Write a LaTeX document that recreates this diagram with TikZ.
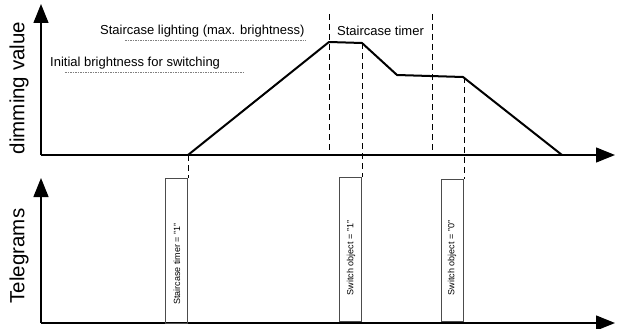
\documentclass[tikz,border=0pt]{standalone}
\usepackage{fontspec}
\setmainfont{Liberation Sans}
\usetikzlibrary{arrows.meta}
\begin{document}
\begin{tikzpicture}[x=1pt,y=-1pt,
  axis/.style={line width=1.3pt,-{Triangle[length=19pt,width=15pt]}},
  curve/.style={line width=2pt,line join=round},
  guide/.style={line width=0.9pt,dash pattern=on 6pt off 4pt},
  uline/.style={line width=0.7pt,gray,dash pattern=on 1.5pt off 1pt},
  tele/.style={draw=black!70,line width=0.9pt,minimum width=22pt,anchor=north east,inner sep=0pt},
  lbl/.style={font=\fontsize{13}{15}\selectfont,inner sep=0pt},
  big/.style={font=\fontsize{20.5}{23}\selectfont,inner sep=0pt,rotate=90},
  small/.style={font=\fontsize{9}{10}\selectfont,inner sep=0pt,rotate=90}]
\useasboundingbox (0,0) rectangle (621,329);
% axes
\coordinate (o1) at (41,155);
\coordinate (y1) at (41,4);
\coordinate (x1) at (615,155);
\coordinate (o2) at (41,323);
\coordinate (y2) at (41,178);
\coordinate (x2) at (615,323);
\draw[axis] (o1) -- (y1);
\draw[axis] (o1) -- (x1);
\draw[axis] (o2) -- (y2);
\draw[axis] (o2) -- (x2);
% curve
\coordinate (c0) at (188,155);
\coordinate (c1) at (329,42);
\coordinate (c2) at (362,43);
\coordinate (c3) at (397,75);
\coordinate (c4) at (463,77);
\coordinate (c5) at (562,155);
\draw[curve] (c0) -- (c1) -- (c2) -- (c3) -- (c4) -- (c5);
% telegram boxes
\node[tele,minimum height=145pt] (t1) at (188,178) {};
\node[tele,minimum height=144pt] (t2) at (362,177) {};
\node[tele,minimum height=142pt] (t3) at (464,179) {};
\node[small] (l1) at (177,264) {Staircase timer = "1"};
\node[small] (l2) at (351,258) {Switch object = "1"};
\node[small] (l3) at (452,258) {Switch object = "0"};
% guides
\coordinate (g1t) at (329,14);
\coordinate (g1b) at (329,155);
\coordinate (g3t) at (432,14);
\coordinate (g3b) at (432,155);
\coordinate (g4t) at (464,77);
\draw[guide] (g1t) -- (g1b);
\draw[guide] (g3t) -- (g3b);
\draw[guide] (c0) -- (t1.north east);
\draw[guide] (c2) -- (t2.north east);
\draw[guide] (g4t) -- (t3.north east);
% labels
\node[lbl,anchor=west] (sl) at (100,31) {Staircase lighting (max. brightness)};
\node[lbl,anchor=west] (ib) at (50,63) {Initial brightness for switching};
\node[lbl,anchor=west] (st) at (337,31) {Staircase timer};
\coordinate (u1a) at (125,40);
\coordinate (u1b) at (306,40);
\coordinate (u2a) at (65,72);
\coordinate (u2b) at (245,72);
\draw[uline] (u1a) -- (u1b);
\draw[uline] (u2a) -- (u2b);
\node[big] (dv) at (19,88) {dimming value};
\node[big] (tg) at (19,256) {Telegrams};
\end{tikzpicture}
\end{document}
